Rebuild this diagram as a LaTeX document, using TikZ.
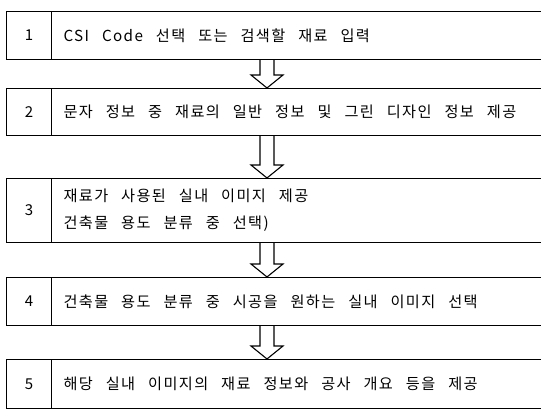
\documentclass[tikz,border=0pt]{standalone}
\usepackage{fontspec}
\setmainfont{Noto Sans CJK KR}
\newfontfamily\kr{Noto Sans CJK KR}
\newfontfamily\krsp[LetterSpace=9]{Noto Sans CJK KR}
\usetikzlibrary{calc}
\begin{document}
\begin{tikzpicture}[x=1pt,y=-1pt,
  boxline/.style={draw=black,line width=1.1pt},
  numbox/.style={boxline,minimum width=45pt,minimum height=#1,inner sep=0pt,anchor=north west,
    font=\kr\fontsize{15}{17}\selectfont},
  txtbox/.style={boxline,minimum height=#1,inner xsep=12pt,inner ysep=0pt,text width=470pt,align=left,anchor=north west,
    font=\krsp\fontsize{15.2}{27}\selectfont,
    execute at begin node={\spaceskip=13pt\relax}},
  flowarrow/.style={draw=black,fill=white,line width=1.1pt,line join=miter}
]
\fill[white] (0,0) rectangle (541,411);
\useasboundingbox (0,0) rectangle (541,411);

\node[numbox=48pt] (n1) at (6,11) {1};
\node[txtbox=48pt] (t1) at (51,11) {CSI Code 선택 또는 검색할 재료 입력};

\node[numbox=47pt] (n2) at (6,88) {2};
\node[txtbox=47pt] (t2) at (51,88) {문자 정보 중 재료의 일반 정보 및 그린 디자인 정보 제공};

\node[numbox=64pt] (n3) at (6,178) {3};
\node[txtbox=64pt] (t3) at (51,178) {재료가 사용된 실내 이미지 제공\\건축물 용도 분류 중 선택)};

\node[numbox=48pt] (n4) at (6,277) {4};
\node[txtbox=48pt] (t4) at (51,277) {건축물 용도 분류 중 시공을 원하는 실내 이미지 선택};

\node[numbox=49pt] (n5) at (6,359) {5};
\node[txtbox=49pt] (t5) at (51,359) {해당 실내 이미지의 재료 정보와 공사 개요 등을 제공};

\coordinate (ax) at (267,0);
\foreach \a/\b in {t1/t2,t2/t3,t3/t4,t4/t5}{
  \draw[flowarrow] let \p1=(ax |- \a.south), \p2=(ax |- \b.north) in
    (\x1-7pt,\y1) -- (\x1-7pt,\y2+13pt) -- (\x1-16pt,\y2+13pt) -- (\x1,\y2)
    -- (\x1+16pt,\y2+13pt) -- (\x1+7pt,\y2+13pt) -- (\x1+7pt,\y1);
}
\end{tikzpicture}
\end{document}
